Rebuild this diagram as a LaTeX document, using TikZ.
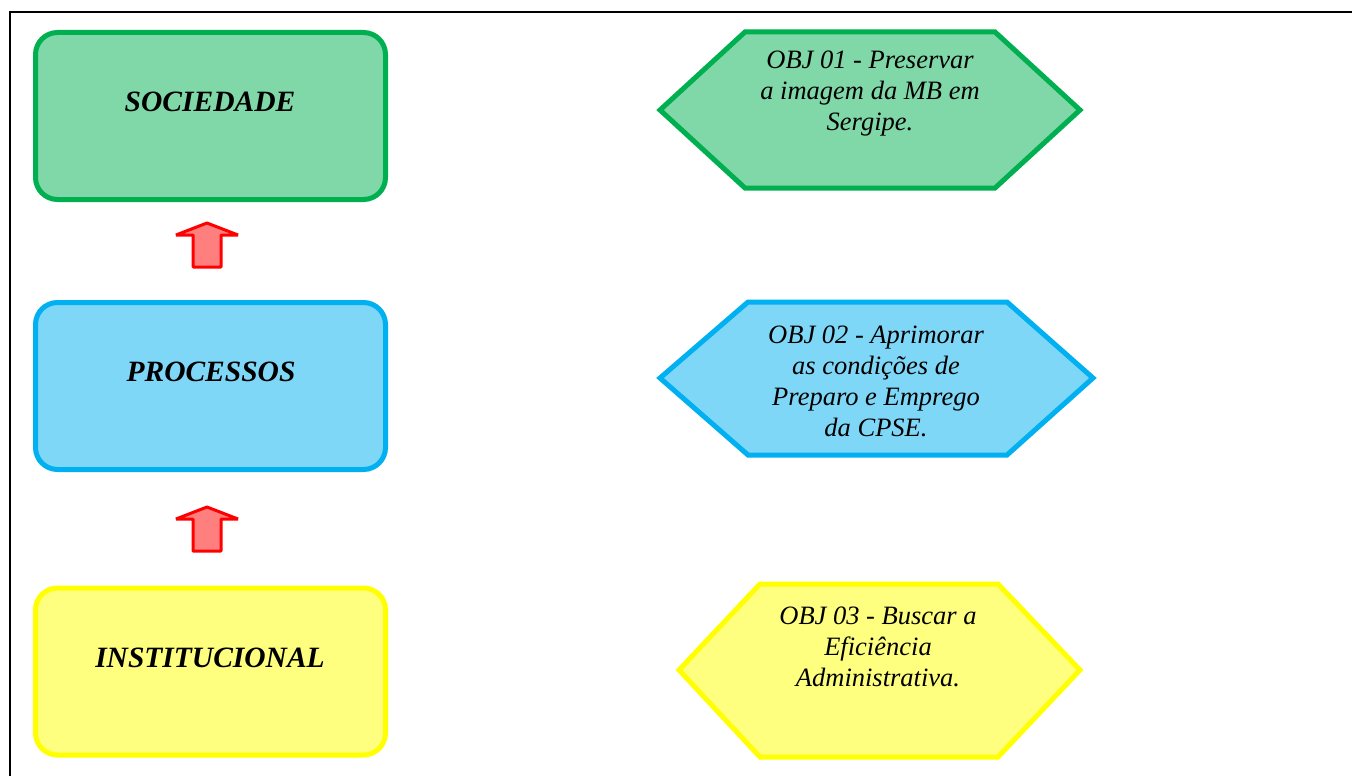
\documentclass[tikz,border=0pt]{standalone}
\usepackage{fontspec}
\setmainfont{Liberation Serif}
\definecolor{gstroke}{HTML}{00B050}
\definecolor{gfill}{HTML}{80D8A8}
\definecolor{bstroke}{HTML}{00B0F0}
\definecolor{bfill}{HTML}{7FD7F7}
\definecolor{ystroke}{HTML}{FFFF00}
\definecolor{yfill}{HTML}{FFFF7F}
\definecolor{rstroke}{HTML}{FF0000}
\definecolor{rfill}{HTML}{FF7F7F}
\tikzset{
  levelbox/.style={draw, line width=5pt, rounded corners=22pt, minimum width=350pt, minimum height=167pt, inner sep=0pt},
  levellabel/.style={font=\fontsize{29.5}{34}\selectfont\bfseries\itshape, inner sep=0pt},
  hexline/.style={line width=5pt, line join=miter},
  objtext/.style={font=\fontsize{26.5}{31}\selectfont\itshape, align=center, inner sep=0pt},
  uparrow/.style={draw=rstroke, fill=rfill, line width=3pt, line join=bevel}
}
\begin{document}
\begin{tikzpicture}[x=1pt,y=-1pt]
\useasboundingbox (0,0) rectangle (1352,776);
\fill[white] (0,0) rectangle (1352,776);
% frame
\draw[line width=2.5pt] (10,780) -- (10,12) -- (1360,12);

% level boxes
\node[levelbox, draw=gstroke, fill=gfill] (soc) at (210.5,116) {};
\node[levellabel] (socl) at (210,102) {SOCIEDADE};
\node[levelbox, draw=bstroke, fill=bfill] (proc) at (210.5,386) {};
\node[levellabel] (procl) at (211,372) {PROCESSOS};
\node[levelbox, draw=ystroke, fill=yfill] (inst) at (210.5,671.5) {};
\node[levellabel] (instl) at (210,658) {INSTITUCIONAL};

% red up arrows
\coordinate (a1) at (207,223);
\draw[uparrow] (a1) -- (238,235) -- (221,235) -- (221,267) -- (193,267) -- (193,235) -- (176,235) -- cycle;
\coordinate (a2) at (207,507);
\draw[uparrow] (a2) -- (238,519) -- (221,519) -- (221,551) -- (193,551) -- (193,519) -- (176,519) -- cycle;

% hexagons
\draw[hexline, draw=gstroke, fill=gfill] (660,110) -- (745,32) -- (995,32) -- (1080,110) -- (995,188) -- (745,188) -- cycle;
\node[objtext] (obj1) at (870,94) {OBJ 01 - Preservar\\a imagem da MB em\\Sergipe.};

\draw[hexline, draw=bstroke, fill=bfill] (660,378) -- (748,302) -- (1007,302) -- (1093,378) -- (1007,455) -- (748,455) -- cycle;
\node[objtext] (obj2) at (876,381) {OBJ 02 - Aprimorar\\as condições de\\Preparo e Emprego\\da CPSE.};

\draw[hexline, draw=ystroke, fill=yfill] (679,670) -- (760,584) -- (998,584) -- (1080,670) -- (998,757) -- (760,757) -- cycle;
\node[objtext] (obj3) at (878,647) {OBJ 03 - Buscar a\\Eficiência\\Administrativa.};
\end{tikzpicture}
\end{document}
